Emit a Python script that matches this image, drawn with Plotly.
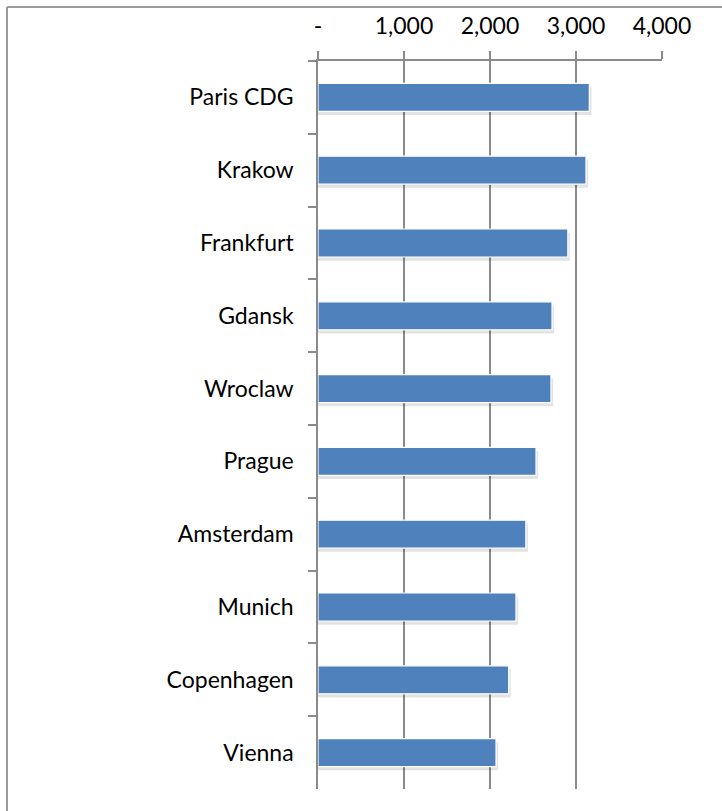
import plotly.graph_objects as go

cities = ["Paris CDG", "Krakow", "Frankfurt", "Gdansk", "Wroclaw",
          "Prague", "Amsterdam", "Munich", "Copenhagen", "Vienna"]
values = [3155, 3116, 2905, 2721, 2709, 2535, 2417, 2302, 2217, 2070]
tick_vals = [0, 1000, 2000, 3000, 4000]
tick_text = ["-", "1,000", "2,000", "3,000", "4,000"]

W, H = 722, 811
L, R, T, B = 318, 60, 61, 22
FONT = "Lato, Open Sans, sans-serif"
GRID = "#8a8a8a"
BAR_W = 0.385
PW, PH = W - L - R, H - T - B

fig = go.Figure()
# soft drop shadow
fig.add_trace(go.Bar(
    y=cities, x=[v + 25 for v in values], orientation="h",
    marker=dict(color="rgba(0,0,0,0.11)", line=dict(width=0)),
    width=BAR_W, offset=-BAR_W / 2 + 0.05, hoverinfo="skip", showlegend=False,
))
fig.add_trace(go.Bar(
    y=cities, x=values, orientation="h",
    marker=dict(color="#4F81BD", line=dict(color="white", width=1.2)),
    width=BAR_W, offset=-BAR_W / 2, showlegend=False,
))

border = dict(color="#9a9a9a", width=2)
fig.update_layout(
    width=W, height=H,
    margin=dict(l=L, r=R, t=T, b=B, autoexpand=False),
    paper_bgcolor="white", plot_bgcolor="white",
    barmode="overlay",
    font=dict(family=FONT, size=23, color="#000000"),
    xaxis=dict(
        side="top", range=[0, 4000], tickvals=tick_vals, ticktext=tick_text,
        showgrid=True, gridcolor=GRID, gridwidth=1.5,
        showline=True, linecolor=GRID, linewidth=1.5,
        ticks="outside", ticklen=8, tickcolor=GRID, tickwidth=1.5,
        zeroline=False, tickfont=dict(size=23), ticklabelstandoff=8,
        automargin=False,
    ),
    yaxis=dict(
        categoryorder="array", categoryarray=cities, autorange="reversed",
        showline=True, linecolor=GRID, linewidth=1.5,
        ticks="outside", ticklen=8, tickcolor=GRID, tickwidth=1.5,
        tickson="boundaries", showgrid=False, ticklabelstandoff=18,
        tickfont=dict(size=23), automargin=False,
    ),
    shapes=[
        dict(type="line", xref="paper", yref="paper",
             x0=(7 - L) / PW, x1=(W - L) / PW,
             y0=1 + (T - 7) / PH, y1=1 + (T - 7) / PH, line=border),
        dict(type="line", xref="paper", yref="paper",
             x0=(7 - L) / PW, x1=(7 - L) / PW,
             y0=1 + (T - 7) / PH, y1=-B / PH, line=border),
    ],
)

fig.write_html("out.html", config={"displayModeBar": False},
               post_script="document.body.style.margin='0';")
